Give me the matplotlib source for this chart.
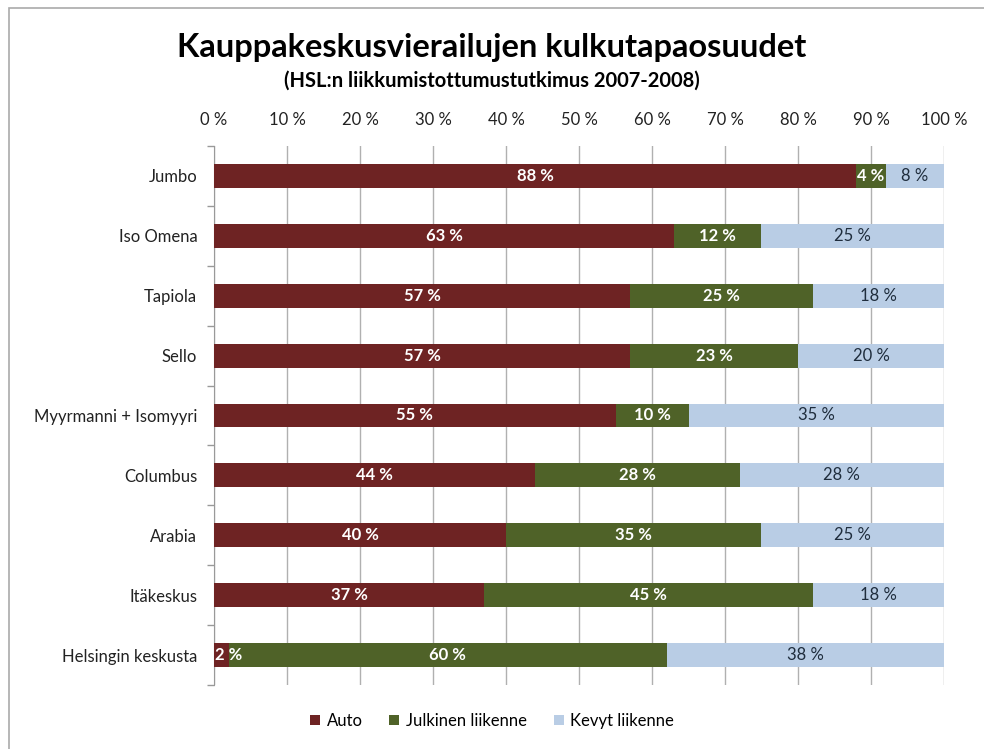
import matplotlib
matplotlib.use("Agg")
import matplotlib.pyplot as plt
from matplotlib.patches import Rectangle

categories = ["Jumbo", "Iso Omena", "Tapiola", "Sello", "Myyrmanni + Isomyyri",
              "Columbus", "Arabia", "Itäkeskus", "Helsingin keskusta"]
auto = [88, 63, 57, 57, 55, 44, 40, 37, 2]
julkinen = [4, 12, 25, 23, 10, 28, 35, 45, 60]
kevyt = [8, 25, 18, 20, 35, 28, 25, 18, 38]
series_names = ["Auto", "Julkinen liikenne", "Kevyt liikenne"]
colors = ["#6e2323", "#4f6228", "#b9cde5"]
xticks = [0, 10, 20, 30, 40, 50, 60, 70, 80, 90, 100]

plt.rcParams['font.family'] = ['Lato', 'DejaVu Sans']

fig = plt.figure(figsize=(9.84, 7.49), dpi=100)
ax = fig.add_axes([214/984, 1-685/749, (944-214)/984, (685-146)/749])

n = len(categories)
ypos = list(range(n))
left = [0]*n
label_colors = ["white", "white", "#1f2d3d"]
label_weights = ["bold", "bold", "normal"]
fs = 12
for vals, name, c, lc, lw in zip([auto, julkinen, kevyt], series_names, colors, label_colors, label_weights):
    bars = ax.barh(ypos, vals, left=left, height=0.4, color=c, label=name, zorder=3)
    for b, v, l in zip(bars, vals, left):
        yc = b.get_y() + b.get_height()/2
        if v <= 2:
            ax.text(l + 0.2, yc, f"{v} %", ha="left", va="center",
                    color="white", fontsize=fs, fontweight="bold", zorder=5)
        else:
            ax.text(l + v/2, yc, f"{v} %", ha="center", va="center",
                    color=lc, fontsize=fs, fontweight=lw, zorder=5)
    left = [a + b for a, b in zip(left, vals)]

ax.set_xlim(0, 100)
ax.set_ylim(n - 0.5, -0.5)
ax.set_xticks(xticks)
ax.set_xticklabels([f"{t} %" for t in xticks], fontsize=fs, color="#222222")
ax.xaxis.tick_top()
ax.tick_params(axis="x", length=0, pad=13)
ax.set_yticks(ypos)
ax.set_yticklabels(categories, fontsize=fs, color="#222222")
ax.tick_params(axis="y", length=0, pad=12)
ax.set_yticks([i + 0.5 for i in range(-1, n)], minor=True)
ax.tick_params(axis="y", which="minor", length=5, color="#999999", width=1)
ax.grid(axis="x", color="#b0b0b0", linewidth=1, zorder=0)
for s in ["top", "right", "bottom"]:
    ax.spines[s].set_visible(False)
ax.spines["left"].set_color("#999999")

fig.text(0.5, 1-48/749, "Kauppakeskusvierailujen kulkutapaosuudet", ha="center", va="center",
         fontsize=23.5, fontweight="bold", color="black")
fig.text(0.5, 1-81/749, "(HSL:n liikkumistottumustutkimus 2007-2008)", ha="center", va="center",
         fontsize=14.5, fontweight="bold", color="black")

fig.legend(loc="center", bbox_to_anchor=(0.5, 1-721/749), ncol=3, frameon=False,
           fontsize=fs, handlelength=0.6, handleheight=0.6, columnspacing=1.6, handletextpad=0.4)

fig.patches.append(Rectangle((9/984, -0.01), 1.0, 1-8/749 + 0.01, transform=fig.transFigure,
                             fill=False, edgecolor="#aaaaaa", linewidth=1.2))

fig.savefig("out.png", dpi=100)
